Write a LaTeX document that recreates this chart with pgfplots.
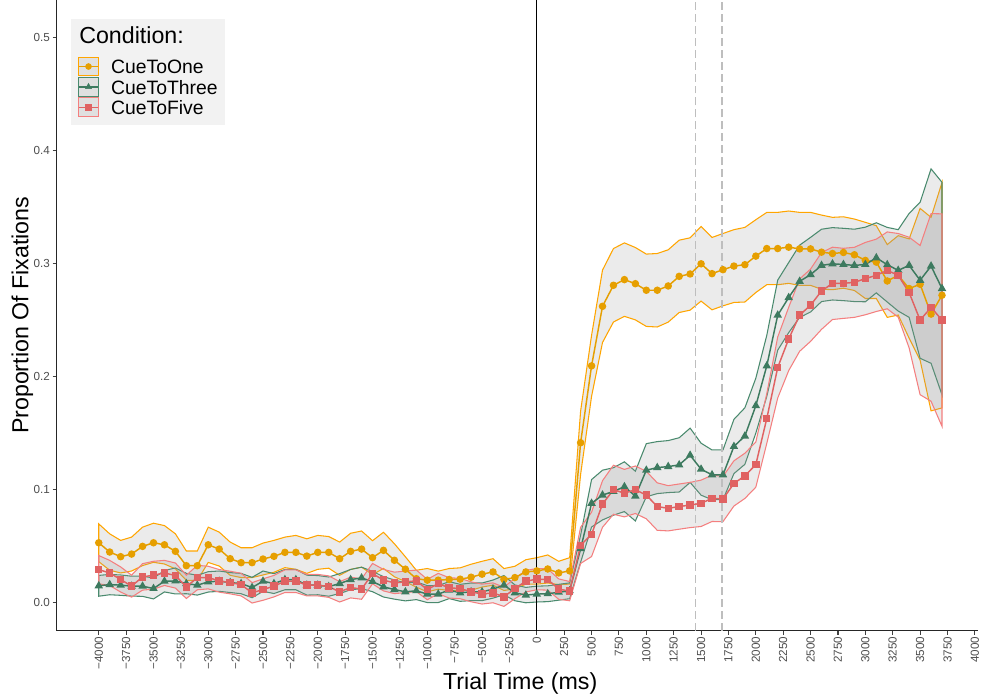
\documentclass[border=0pt]{standalone}
\usepackage{pgfplots}
\pgfplotsset{compat=1.18}
\usepackage{pgfplotstable}
\usepgfplotslibrary{fillbetween}
\usepackage{fontspec}
\setmainfont{Liberation Sans}

\definecolor{oneM}{HTML}{E69F00}
\definecolor{oneB}{HTML}{FFA500}
\definecolor{threeM}{HTML}{3D7A5F}
\definecolor{threeB}{HTML}{4A8A6E}
\definecolor{fiveM}{HTML}{E06262}
\definecolor{fiveB}{HTML}{F47F7F}
\definecolor{tickgrey}{HTML}{4D4D4D}
\definecolor{legbg}{HTML}{F2F2F2}
\definecolor{vdash}{HTML}{BEBEBE}

% t: trial time (ms); m = mean proportion, s = standard error
% 1 = CueToOne, 3 = CueToThree, 5 = CueToFive
\pgfplotstableread{
t m1 s1 m3 s3 m5 s5
-4000 .0528 .0167 .0147 .0092 .0290 .0125
-3900 .0446 .0161 .0158 .0090 .0261 .0111
-3800 .0405 .0144 .0153 .0090 .0203 .0111
-3700 .0428 .0150 .0144 .0088 .0144 .0097
-3600 .0496 .0170 .0144 .0090 .0226 .0117
-3500 .0528 .0173 .0123 .0092 .0241 .0123
-3400 .0510 .0170 .0188 .0095 .0261 .0111
-3300 .0452 .0155 .0190 .0115 .0238 .0111
-3200 .0325 .0130 .0167 .0090 .0138 .0103
-3100 .0325 .0130 .0153 .0088 .0220 .0108
-3000 .0510 .0156 .0182 .0090 .0220 .0100
-2900 .0472 .0150 .0188 .0090 .0191 .0100
-2800 .0387 .0147 .0176 .0088 .0176 .0100
-2700 .0352 .0132 .0167 .0090 .0158 .0100
-2600 .0352 .0132 .0132 .0090 .0085 .0090
-2500 .0384 .0141 .0188 .0090 .0114 .0095
-2400 .0408 .0141 .0167 .0088 .0144 .0095
-2300 .0443 .0135 .0202 .0090 .0188 .0100
-2200 .0443 .0150 .0202 .0090 .0188 .0100
-2100 .0410 .0153 .0153 .0088 .0153 .0095
-2000 .0443 .0150 .0153 .0085 .0153 .0095
-1900 .0443 .0140 .0140 .0085 .0140 .0095
-1800 .0387 .0147 .0167 .0088 .0094 .0090
-1700 .0452 .0160 .0202 .0090 .0132 .0092
-1600 .0472 .0160 .0217 .0095 .0118 .0090
-1500 .0396 .0150 .0185 .0090 .0255 .0090
-1400 .0461 .0160 .0138 .0090 .0197 .0095
-1300 .0373 .0146 .0114 .0085 .0173 .0095
-1200 .0294 .0110 .0094 .0080 .0182 .0095
-1100 .0210 .0075 .0103 .0078 .0191 .0095
-1000 .0197 .0103 .0074 .0075 .0114 .0090
-900 .0197 .0080 .0074 .0075 .0167 .0090
-800 .0203 .0097 .0109 .0075 .0129 .0090
-700 .0206 .0100 .0085 .0075 .0123 .0090
-600 .0223 .0115 .0094 .0078 .0094 .0088
-500 .0250 .0114 .0094 .0078 .0074 .0088
-400 .0270 .0117 .0118 .0080 .0085 .0088
-300 .0203 .0097 .0153 .0085 .0050 .0085
-200 .0220 .0100 .0085 .0070 .0123 .0090
-100 .0270 .0108 .0065 .0068 .0188 .0095
0 .0279 .0117 .0074 .0070 .0206 .0094
100 .0296 .0124 .0077 .0070 .0203 .0094
200 .0261 .0103 .0090 .0070 .0118 .0090
300 .0279 .0117 .0103 .0070 .0100 .0085
400 .1413 .0280 .0475 .0120 .0505 .0160
500 .2093 .0270 .0877 .0210 .0602 .0196
600 .2620 .0320 .0950 .0220 .0871 .0206
700 .2806 .0325 .0982 .0210 .0997 .0217
800 .2856 .0325 .1024 .0220 .0967 .0210
900 .2820 .0320 .0941 .0220 .0997 .0210
1000 .2762 .0320 .1170 .0235 .0950 .0210
1100 .2762 .0325 .1193 .0230 .0848 .0210
1200 .2800 .0320 .1202 .0230 .0833 .0200
1300 .2885 .0320 .1217 .0240 .0848 .0200
1400 .2906 .0320 .1302 .0240 .0862 .0200
1500 .2996 .0330 .1179 .0230 .0877 .0205
1600 .2909 .0320 .1129 .0220 .0921 .0205
1700 .2944 .0320 .1129 .0220 .0915 .0200
1800 .2976 .0322 .1380 .0240 .1053 .0200
1900 .2988 .0330 .1472 .0250 .1120 .0200
2000 .3064 .0322 .1741 .0243 .1220 .0200
2100 .3131 .0320 .2093 .0270 .1627 .0220
2200 .3131 .0320 .2542 .0310 .2079 .0270
2300 .3143 .0320 .2697 .0310 .2331 .0280
2400 .3128 .0323 .2841 .0320 .2542 .0320
2500 .3128 .0323 .2900 .0330 .2630 .0320
2600 .3099 .0328 .2982 .0320 .2756 .0340
2700 .3087 .0320 .2996 .0320 .2823 .0320
2800 .3096 .0316 .2990 .0320 .2823 .0310
2900 .3076 .0316 .2982 .0320 .2832 .0310
3000 .3026 .0337 .2990 .0330 .2865 .0320
3100 .3011 .0322 .3049 .0310 .2894 .0320
3200 .2844 .0322 .2988 .0330 .2938 .0340
3300 .2894 .0351 .2938 .0360 .2894 .0370
3400 .2777 .0439 .2982 .0460 .2741 .0490
3500 .2815 .0671 .2850 .0690 .2498 .0660
3600 .2551 .0856 .2976 .0860 .2610 .0830
3700 .2718 .0997 .2777 .0940 .2498 .0940
}\fixdata

\begin{document}
\begin{tikzpicture}
\begin{axis}[
  name=ax,
  scale only axis,
  width=694.5pt, height=475.5pt,
  xmin=-4384, xmax=4026,
  ymin=-0.0249, ymax=0.533,
  axis x line*=bottom, axis y line*=left,
  axis line style={line width=0.8pt, color=black!85},
  tick align=outside,
  major tick length=3pt,
  tick style={line width=0.8pt, color=black!75},
  xtick={-4000,-3750,...,4000},
  xticklabels={−4000,−3750,−3500,−3250,−3000,−2750,−2500,−2250,−2000,−1750,−1500,−1250,−1000,−750,−500,−250,0,250,500,750,1000,1250,1500,1750,2000,2250,2500,2750,3000,3250,3500,3750,4000},
  ytick={0,0.1,0.2,0.3,0.4,0.5},
  yticklabels={0.0,0.1,0.2,0.3,0.4,0.5},
  ticklabel style={font=\fontsize{8.8}{10.5}\selectfont, text=tickgrey},
  x tick label style={rotate=90, anchor=east, inner sep=1.5pt},
  y tick label style={inner sep=2pt},
  xlabel={Trial Time (ms)},
  ylabel={Proportion Of Fixations},
  xlabel style={font=\fontsize{17.5}{20}\selectfont, at={([xshift=2.25pt,yshift=-44.25pt]axis description cs:0.5,0)}, anchor=base},
  ylabel style={font=\fontsize{17.5}{20}\selectfont, at={([xshift=-25.9pt]axis description cs:0,0.5)}, anchor=center, rotate=0},
  legend cell align=left,
  legend style={at={(axis description cs:0.0151,0.970)}, anchor=north west,
    fill=legbg, draw=none, inner xsep=5.25pt, inner ysep=5.5pt,
    column sep=9pt, row sep=0pt,
    font=\fontsize{14.6}{16}\selectfont,
    nodes={inner sep=0pt, text height=13.1pt, text depth=2.3pt}},
]
% legend title and keys
\addlegendimage{empty legend}
\addlegendentry[text height=12.6pt, text depth=9.9pt]{\hspace{-24pt}\fontsize{17.5}{20}\selectfont Condition:}
\addlegendimage{legend image code/.code={
  \draw[draw=oneB, line width=0.8pt, fill=black!40, fill opacity=0.2] (0pt,-7.1pt) rectangle (15pt,7.1pt);
  \draw[oneM, line width=1.1pt] (0pt,0pt) -- (15pt,0pt);
  \draw[oneM, mark=*, mark size=2.25pt] plot coordinates {(7.5pt,0pt)};}}
\addlegendentry{CueToOne}
\addlegendimage{legend image code/.code={
  \draw[draw=threeB, line width=0.8pt, fill=black!40, fill opacity=0.2] (0pt,-7.1pt) rectangle (15pt,7.1pt);
  \draw[threeM, line width=1.1pt] (0pt,0pt) -- (15pt,0pt);
  \draw[threeM, mark=triangle*, mark size=2.6pt] plot coordinates {(7.5pt,0pt)};}}
\addlegendentry{CueToThree}
\addlegendimage{legend image code/.code={
  \draw[draw=fiveB, line width=0.8pt, fill=black!40, fill opacity=0.2] (0pt,-7.1pt) rectangle (15pt,7.1pt);
  \draw[fiveM, line width=1.1pt] (0pt,0pt) -- (15pt,0pt);
  \draw[fiveM, mark=square*, mark size=2.25pt] plot coordinates {(7.5pt,0pt)};}}
\addlegendentry{CueToFive}

% standard-error band edges
\addplot[draw=none, name path=u1, forget plot] table[x=t, y expr=\thisrow{m1}+\thisrow{s1}] {\fixdata};
\addplot[draw=none, name path=l1, forget plot] table[x=t, y expr=\thisrow{m1}-\thisrow{s1}] {\fixdata};
\addplot[draw=none, name path=u3, forget plot] table[x=t, y expr=\thisrow{m3}+\thisrow{s3}] {\fixdata};
\addplot[draw=none, name path=l3, forget plot] table[x=t, y expr=\thisrow{m3}-\thisrow{s3}] {\fixdata};
\addplot[draw=none, name path=u5, forget plot] table[x=t, y expr=\thisrow{m5}+\thisrow{s5}] {\fixdata};
\addplot[draw=none, name path=l5, forget plot] table[x=t, y expr=\thisrow{m5}-\thisrow{s5}] {\fixdata};

% bands
\addplot[draw=oneB, line width=0.8pt, fill=black!40, fill opacity=0.2, forget plot] fill between[of=u1 and l1];
\addplot[draw=threeB, line width=0.8pt, fill=black!40, fill opacity=0.2, forget plot] fill between[of=u3 and l3];
\addplot[draw=fiveB, line width=0.8pt, fill=black!40, fill opacity=0.2, forget plot] fill between[of=u5 and l5];

% reference lines
\addplot[black, line width=0.8pt, forget plot] coordinates {(0,-0.0249) (0,0.533)};
\addplot[vdash, line width=1pt, dash pattern=on 6pt off 3pt, forget plot] coordinates {(1450,-0.0249) (1450,0.533)};
\addplot[vdash, line width=1pt, dash pattern=on 6pt off 3pt, forget plot] coordinates {(1690,-0.0249) (1690,0.533)};

% condition means
\addplot[oneM, line width=1.1pt, mark=*, mark size=2.25pt, forget plot] table[x=t, y=m1] {\fixdata};
\addplot[threeM, line width=1.1pt, mark=triangle*, mark size=2.6pt, forget plot] table[x=t, y=m3] {\fixdata};
\addplot[fiveM, line width=1.1pt, mark=square*, mark size=2.25pt, forget plot] table[x=t, y=m5] {\fixdata};
\end{axis}
\pgfresetboundingbox
\path ([xshift=-42.75pt,yshift=-47.25pt]ax.south west) rectangle ([xshift=4pt]ax.north east);
\end{tikzpicture}
\end{document}
